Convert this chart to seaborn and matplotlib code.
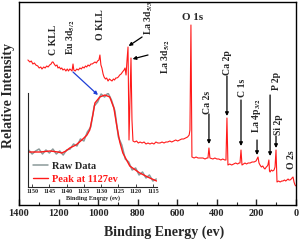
import matplotlib
matplotlib.use('Agg')
import matplotlib.pyplot as plt
import seaborn as sns

# survey spectrum (binding energy in eV, intensity in arbitrary units)
survey_be = [1355, 1345, 1338, 1330, 1322, 1315, 1305, 1298, 1290, 1284, 1275, 1268, 1260, 1253,
             1245, 1238, 1232, 1228, 1222, 1215, 1208, 1203, 1196, 1190, 1184, 1178, 1170, 1163,
             1156, 1150, 1143, 1137, 1132, 1127, 1123, 1116, 1108, 1100, 1092, 1085, 1078, 1071,
             1064, 1058, 1051, 1044, 1037, 1030, 1023, 1016, 1009, 1003, 996, 991, 986, 981, 975,
             970, 963, 957, 950, 943, 937, 930, 923, 917, 911, 905, 898, 891, 884, 877, 869, 864,
             859, 854, 849, 844, 839, 834, 829, 824, 815, 806, 797, 788, 778, 768, 758, 748, 738,
             728, 718, 708, 698, 687, 677, 667, 658, 648, 638, 628, 618, 608, 598, 588, 578, 568,
             558, 548, 540, 536, 531, 526, 515, 505, 495, 485, 470, 460, 450, 445, 440, 435, 420,
             410, 400, 390, 380, 370, 360, 354, 349, 344, 335, 325, 315, 305, 295, 288, 283, 278,
             273, 265, 258, 250, 242, 232, 222, 212, 202, 197, 192, 187, 182, 175, 168, 162, 157,
             150, 145, 142, 137, 134, 131, 125, 118, 111, 106, 101, 96, 88, 80, 72, 66, 58, 52,
             46, 40, 36, 30, 24, 20, 15, 10, 5, 0]
survey_int = [145, 143, 144, 141, 142, 140, 139, 137, 138, 136, 138, 137, 139, 138,
              140, 141, 143, 143, 141, 139, 140, 137, 138, 136, 137, 135, 136, 134,
              136, 134, 136, 135, 134, 141, 135, 134, 136, 135, 137, 136, 138, 137,
              139, 138, 140, 139, 141, 141, 142, 143, 142, 144, 145, 150, 140, 137, 131,
              128, 126, 127, 124, 126, 125, 124, 126, 125, 127, 127, 128, 130, 131, 133, 135, 137,
              130, 145, 158, 65, 105, 147, 85, 64, 63, 64, 62, 63, 62, 63, 61, 62, 61,
              62, 61, 63, 62, 62, 63, 62, 63, 63, 64, 63, 64, 65, 64, 65, 66, 66,
              67, 68, 70, 75, 180, 48, 47, 48, 47, 47, 47, 46, 47, 47, 57, 47, 46,
              47, 46, 46, 45, 46, 45, 45, 87, 40, 41, 40, 41, 42, 41, 42, 42, 55,
              40, 41, 42, 41, 42, 42, 43, 43, 44, 46, 48, 42, 40, 38, 39, 37, 36,
              38, 39, 40, 45, 34, 33, 35, 34, 35, 38, 55, 23, 24, 23, 24, 24, 25, 24,
              25, 26, 25, 25, 26, 27, 28, 23, 20, 19]

# Eu 3d5/2 region (inset)
raw_be = [1151, 1150, 1149, 1148, 1147, 1146, 1145, 1144, 1143, 1142, 1141, 1140, 1139, 1138,
          1137, 1136, 1135, 1134, 1133, 1132, 1131, 1130, 1129, 1128, 1127, 1126, 1125, 1124,
          1123, 1122, 1121, 1120, 1119, 1118, 1117, 1116, 1115, 1114]
raw_int = [37, 33, 36, 38, 33, 37, 34, 38, 33, 36, 32, 37, 38, 43,
           41, 48, 46, 55, 60, 81, 85, 93, 90, 94, 87, 76, 50, 42,
           28, 25, 17, 19, 12, 15, 9, 12, 6, 8]
fit_be = [1151.2, 1147.7, 1144.8, 1142.5, 1141.4, 1140.2, 1139.1, 1137.3, 1135.6, 1134.1,
          1133.3, 1132.4, 1131.8, 1130.4, 1128.9, 1127.5, 1126.3, 1125.5, 1124.6, 1123.7,
          1121.7, 1118.8, 1115.9, 1113.9]
fit_int = [35, 35, 36, 35, 34, 36, 39, 42, 47, 52,
           57, 72, 84, 90, 92, 90, 79, 62, 45, 34,
           21, 14, 9, 6]

main_ticks = [1400, 1200, 1000, 800, 600, 400, 200, 0]
inset_ticks = [1150, 1145, 1140, 1135, 1130, 1125, 1120, 1115]

# peak labels: text, label position (be, intensity)
labels = [
    ('C KLL', 1228, 165),
    (r'Eu 3d$_\mathbf{5/2}$', 1137, 168),
    ('O KLL', 986, 180),
    (r'La 3d$_\mathbf{5/3}$', 743, 187),
    (r'La 3d$_\mathbf{5/2}$', 657, 148),
    ('Ca 2s', 445, 103),
    ('Ca 2p', 344, 142),
    ('C 1s', 268, 117),
    (r'La 4p$_\mathbf{3/2}$', 202, 89),
    ('P 2p', 101, 124),
    ('Si 2p', 86, 80),
    ('O 2s', 25, 45),
]
arrows = [
    ((778, 168), (846, 159)),
    ((748, 150), (826, 146)),
    ((440, 91), (440, 61)),
    ((349, 129), (349, 89)),
    ((278, 105), (278, 59)),
    ((197, 65), (197, 50)),
    ((131, 110), (131, 49)),
    ((101, 69), (101, 57)),
]

sns.set_style('ticks')
plt.rcParams['font.family'] = ['Liberation Serif', 'DejaVu Serif']
plt.rcParams['font.weight'] = 'bold'
plt.rcParams['mathtext.fontset'] = 'stix'

fig = plt.figure(figsize=(3.0, 2.4), dpi=100)
ax = fig.add_axes([19 / 300, 35 / 240, 277 / 300, 203 / 240])

sns.lineplot(x=survey_be, y=survey_int, ax=ax, color='#ff1a1a', lw=0.8, sort=False)
ax.set_xlim(1400, 0)
ax.set_ylim(0, 203)
ax.set_yticks([])
ax.set_xticks(main_ticks)
ax.set_xticks([1300, 1100, 900, 700, 500, 300, 100], minor=True)
ax.tick_params(axis='x', which='major', direction='in', length=4, width=1, labelsize=7.5, pad=3)
ax.tick_params(axis='x', which='minor', direction='in', length=2, width=0.8)
for s in ax.spines.values():
    s.set_linewidth(1)
    s.set_color('black')
for lab in ax.get_xticklabels():
    lab.set_fontweight('bold')
ax.set_xlabel('Binding Energy (ev)', fontsize=10, fontweight='bold')
ax.xaxis.set_label_coords(0.525, -0.1)
ax.set_ylabel('Relative Intensity', fontsize=10, fontweight='bold')
ax.yaxis.set_label_coords(-0.015, 0.54)

for text, bx, by in labels:
    ax.text(bx, by, text, rotation=90, ha='center', va='center', fontsize=7, fontweight='bold')
ax.text(521, 188, 'O 1s', ha='center', va='center', fontsize=8, fontweight='bold')

for start, end in arrows:
    ax.annotate('', xy=end, xytext=start,
                arrowprops=dict(arrowstyle='-|>', color='black', lw=0.9,
                                mutation_scale=5, shrinkA=0, shrinkB=0))
ax.annotate('', xy=(1001, 110), xytext=(1127, 133),
            arrowprops=dict(arrowstyle='-|>', color='#1f3fd6', lw=0.9,
                            mutation_scale=5, shrinkA=0, shrinkB=0))

# inset
ins = fig.add_axes([28 / 300, 53 / 240, 129 / 300, 94 / 240])
ins.patch.set_alpha(0)
sns.lineplot(x=raw_be, y=raw_int, ax=ins, color='#8c9a9a', lw=1.1, sort=False, label='Raw Data')
sns.lineplot(x=fit_be, y=fit_int, ax=ins, color='#ff1a1a', lw=1.0, sort=False, label='Peak at 1127ev')
ins.set_xlim(1151.2, 1113.8)
ins.set_ylim(0, 94)
ins.set_yticks([])
ins.set_xticks(inset_ticks)
ins.tick_params(axis='x', direction='in', length=2, width=0.6, labelsize=4.5, pad=1.5)
for lab in ins.get_xticklabels():
    lab.set_fontweight('bold')
ins.spines['top'].set_visible(False)
ins.spines['right'].set_visible(False)
ins.spines['left'].set_linewidth(0.8)
ins.spines['bottom'].set_linewidth(0.8)
ins.set_xlabel('Binding Energy (ev)', fontsize=4.5, fontweight='bold', labelpad=1)
leg = ins.legend(loc='lower left', bbox_to_anchor=(-0.01, -0.03), frameon=False,
                 fontsize=7.5, handlelength=1.4, handletextpad=0.4, labelspacing=0.35,
                 borderaxespad=0.2)
for t in leg.get_texts():
    t.set_fontweight('bold')
leg.get_texts()[1].set_color('#ff1a1a')

fig.savefig('out.png', dpi=100)
